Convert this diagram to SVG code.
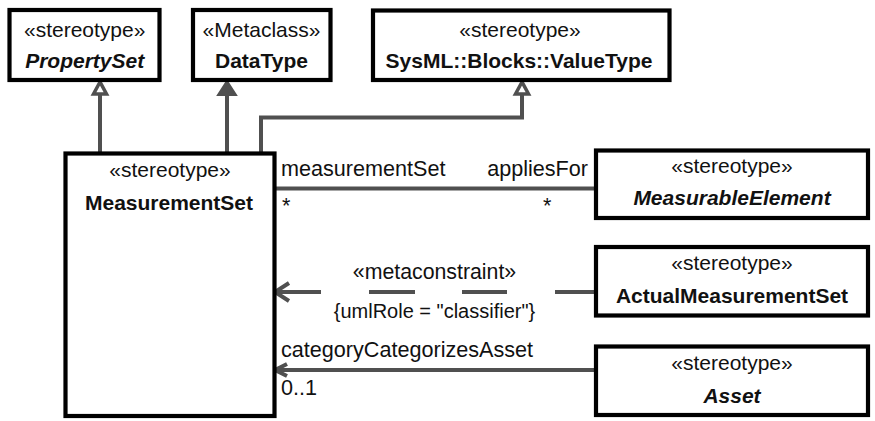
<svg xmlns="http://www.w3.org/2000/svg" width="875" height="421" viewBox="0 0 875 421">
<style>
.box{fill:#fff;stroke:#000;stroke-width:4.2}
.t{font-family:"Liberation Sans",Arial,sans-serif;font-size:21px;fill:#111;text-anchor:middle}
.b{font-weight:bold}
.bi{font-weight:bold;font-style:italic}
.lbl{font-family:"Liberation Sans",Arial,sans-serif;font-size:21.6px;fill:#111}
.cons{font-family:"Liberation Sans",Arial,sans-serif;font-size:20px;fill:#111;text-anchor:middle}
.ln{fill:none;stroke:#505050;stroke-width:4}
.hollow{fill:#fff;stroke:#505050;stroke-width:3.5;stroke-linejoin:miter}
.filled{fill:#505050;stroke:#505050;stroke-width:2}
</style>
<g id="connectors">
<path class="ln" d="M100 153 V94"/>
<polygon class="hollow" points="100,82 93.5,94 106.5,94"/>
<path class="ln" d="M227 153 V94"/>
<polygon class="filled" points="227,81 218,95 236,95"/>
<path class="ln" d="M261 153 V117.5 H522 V94"/>
<polygon class="hollow" points="522,82 515.5,94 528.5,94"/>
<path class="ln" d="M276 188.5 H594"/>
<path class="ln" d="M594 292 H276" stroke-dasharray="39 48 45 47 46 48 50"/>
<polyline class="ln" points="289,283 275,292 289,301"/>
<path class="ln" d="M276 370 H594"/>
<polyline class="ln" points="287,364 275,370 287,376"/>
<text class="lbl" x="281" y="176">measurementSet</text>
<text class="lbl" x="588" y="176" text-anchor="end">appliesFor</text>
<text class="lbl" x="282" y="213">*</text>
<text class="lbl" x="543" y="213">*</text>
<text class="cons" x="434.5" y="279" style="font-size:21.3px">«metaconstraint»</text>
<text class="cons" x="434.5" y="318">{umlRole = "classifier"}</text>
<text class="lbl" x="281" y="357">categoryCategorizesAsset</text>
<text class="lbl" x="281" y="395">0..1</text>
</g>
<g id="PropertySet">
<rect class="box" x="9.5" y="10" width="150" height="70"/>
<text class="t" x="84.7" y="37">«stereotype»</text>
<text class="t bi" x="84.7" y="68">PropertySet</text>
</g>
<g id="DataType">
<rect class="box" x="193" y="10" width="137.5" height="70"/>
<text class="t" x="261.5" y="37">«Metaclass»</text>
<text class="t b" x="261.5" y="68">DataType</text>
</g>
<g id="ValueType">
<rect class="box" x="373" y="10.5" width="296.5" height="69.5"/>
<text class="t" x="520" y="37">«stereotype»</text>
<text class="t b" x="519" y="68">SysML::Blocks::ValueType</text>
</g>
<g id="MeasurementSet">
<rect class="box" x="65.5" y="153.5" width="209" height="262.5"/>
<text class="t" x="170" y="177">«stereotype»</text>
<text class="t b" x="169" y="210">MeasurementSet</text>
</g>
<g id="MeasurableElement">
<rect class="box" x="596" y="150.5" width="272" height="67.5"/>
<text class="t" x="732" y="173">«stereotype»</text>
<text class="t bi" x="732" y="205">MeasurableElement</text>
</g>
<g id="ActualMeasurementSet">
<rect class="box" x="596" y="247" width="272" height="68.5"/>
<text class="t" x="732" y="270">«stereotype»</text>
<text class="t b" x="732" y="303">ActualMeasurementSet</text>
</g>
<g id="Asset">
<rect class="box" x="596" y="346.5" width="272" height="68.5"/>
<text class="t" x="732" y="370">«stereotype»</text>
<text class="t bi" x="732" y="403">Asset</text>
</g>
</svg>
